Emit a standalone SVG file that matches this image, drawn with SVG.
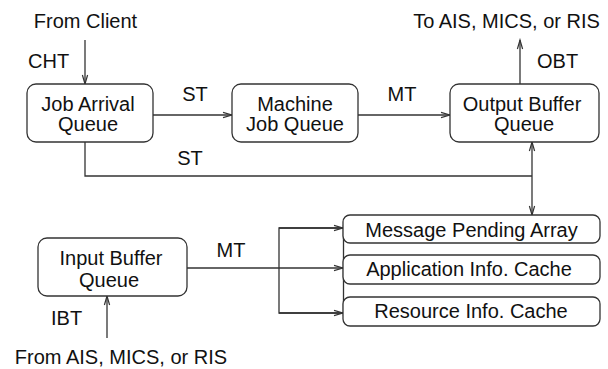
<svg xmlns="http://www.w3.org/2000/svg" width="608" height="369" viewBox="0 0 608 369">
<style>
text{font-family:"Liberation Sans",Arial,sans-serif;font-size:20px;fill:#111}
.c{text-anchor:middle}
.box{fill:#fff;stroke:#333;stroke-width:1.3}
.ln{fill:none;stroke:#333;stroke-width:1.3}
</style>
<defs>
<marker id="ah" markerUnits="userSpaceOnUse" markerWidth="12" markerHeight="8" viewBox="-10 -4 12 8" refX="0" refY="0" orient="auto">
<path d="M-9,-2.6 L0,0 L-9,2.6" fill="none" stroke="#333" stroke-width="1.2"/>
</marker>
</defs>
<rect width="608" height="369" fill="#fff"/>
<g id="connectors">
<line class="ln" x1="85" y1="40" x2="85" y2="84" marker-end="url(#ah)"/>
<line class="ln" x1="153" y1="115" x2="232" y2="115" marker-end="url(#ah)"/>
<line class="ln" x1="358" y1="115" x2="450" y2="115" marker-end="url(#ah)"/>
<line class="ln" x1="520" y1="84" x2="520" y2="40" marker-end="url(#ah)"/>
<polyline class="ln" points="85,142 85,176 532,176"/>
<line class="ln" x1="532" y1="176" x2="532" y2="142" marker-end="url(#ah)"/>
<line class="ln" x1="532" y1="176" x2="532" y2="215" marker-end="url(#ah)"/>
<line class="ln" x1="107" y1="338" x2="107" y2="296" marker-end="url(#ah)"/>
<polyline class="ln" points="187,268 279,268"/>
<polyline class="ln" points="343,228 279,228 279,313 343,313"/>
<line class="ln" x1="279" y1="228" x2="343" y2="228" marker-end="url(#ah)"/>
<line class="ln" x1="279" y1="268" x2="343" y2="268" marker-end="url(#ah)"/>
<line class="ln" x1="279" y1="313" x2="343" y2="313" marker-end="url(#ah)"/>
<line class="ln" x1="343.5" y1="225" x2="343.5" y2="316"/>
<text x="28" y="68">CHT</text>
<text class="c" x="195" y="101">ST</text>
<text class="c" x="402" y="101">MT</text>
<text x="537" y="68">OBT</text>
<text class="c" x="190" y="165">ST</text>
<text class="c" x="231" y="257">MT</text>
<text x="51" y="325">IBT</text>
</g>
<g id="from-client"><text class="c" x="85.5" y="28">From Client</text></g>
<g id="to-ais"><text class="c" x="506.5" y="28">To AIS, MICS, or RIS</text></g>
<g id="from-ais"><text class="c" x="121" y="364">From AIS, MICS, or RIS</text></g>
<g id="job-arrival-queue">
<rect class="box" x="27" y="84" width="126" height="58" rx="9"/>
<text class="c" x="88" y="111">Job Arrival</text>
<text class="c" x="88" y="131">Queue</text>
</g>
<g id="machine-job-queue">
<rect class="box" x="232" y="84" width="126" height="58" rx="9"/>
<text class="c" x="295" y="111">Machine</text>
<text class="c" x="295" y="131">Job Queue</text>
</g>
<g id="output-buffer-queue">
<rect class="box" x="450" y="84" width="149" height="58" rx="9"/>
<text class="c" x="522" y="111">Output Buffer</text>
<text class="c" x="524" y="131">Queue</text>
</g>
<g id="input-buffer-queue">
<rect class="box" x="38" y="238" width="149" height="58" rx="9"/>
<text class="c" x="111" y="265">Input Buffer</text>
<text class="c" x="109" y="287">Queue</text>
</g>
<g id="message-pending-array">
<rect class="box" x="343" y="215" width="257" height="28" rx="7"/>
<text class="c" x="471.5" y="237">Message Pending Array</text>
</g>
<g id="application-info-cache">
<rect class="box" x="343" y="255" width="257" height="29" rx="7"/>
<text class="c" x="469" y="276">Application Info. Cache</text>
</g>
<g id="resource-info-cache">
<rect class="box" x="343" y="297" width="257" height="29" rx="7"/>
<text class="c" x="471" y="318">Resource Info. Cache</text>
</g>
</svg>
